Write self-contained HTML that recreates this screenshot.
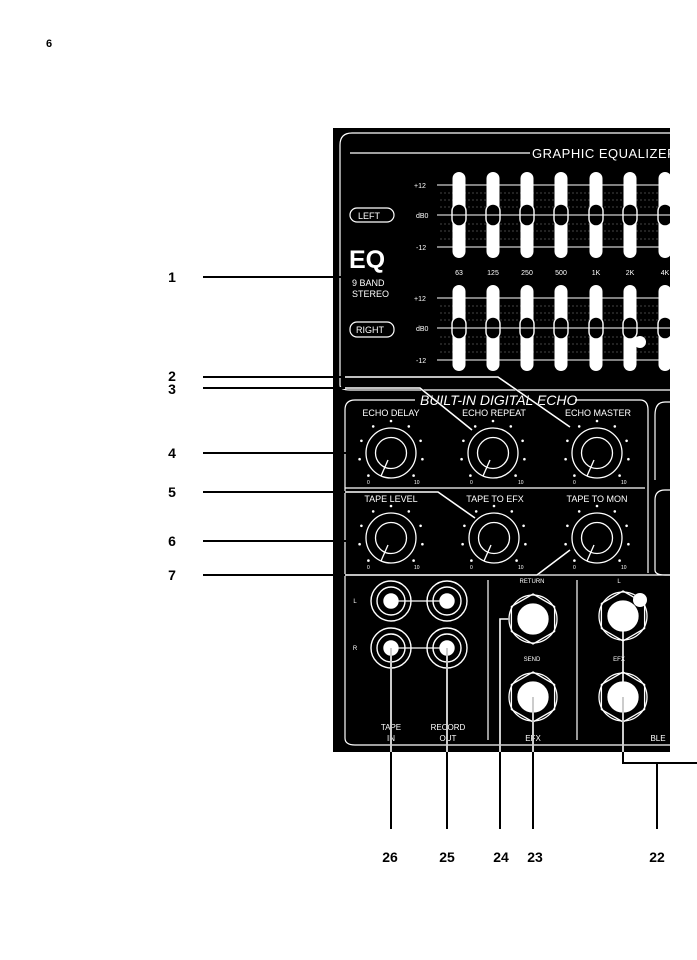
<!DOCTYPE html>
<html><head><meta charset="utf-8"><style>
html,body{margin:0;padding:0;background:#fff;width:697px;height:960px;overflow:hidden}
svg{display:block}
text{font-family:"Liberation Sans",sans-serif}
</style></head><body>
<svg width="697" height="960" viewBox="0 0 697 960" xmlns="http://www.w3.org/2000/svg">
<defs>
<g id="sl"><rect x="-6.5" y="0" width="13" height="86" rx="6.5" fill="#fff"/><rect x="-7" y="32" width="14" height="22" rx="7" fill="#000" stroke="#fff" stroke-width="1.4"/><line x1="-7" y1="43" x2="7" y2="43" stroke="#fff" stroke-width="1"/></g>
<g id="kn" fill="none" stroke="#fff" stroke-width="1.3">
<circle r="25"/><circle r="15.5"/><line x1="-3" y1="7" x2="-10" y2="23"/>
<g fill="#fff" stroke="none">
<circle cx="-22.6" cy="22.6" r="1.3"/><circle cx="-31.4" cy="6.2" r="1.3"/><circle cx="-29.6" cy="-12.2" r="1.3"/><circle cx="-17.8" cy="-26.6" r="1.3"/><circle cx="0" cy="-32" r="1.3"/><circle cx="17.8" cy="-26.6" r="1.3"/><circle cx="29.6" cy="-12.2" r="1.3"/><circle cx="31.4" cy="6.2" r="1.3"/><circle cx="22.6" cy="22.6" r="1.3"/></g></g>
<g id="rca" fill="none" stroke="#fff" stroke-width="1.4"><circle r="20"/><circle r="14"/><circle r="7" fill="#fff"/></g>
<g id="hex" fill="none" stroke="#fff" stroke-width="1.3"><polygon points="0,-25 21.6,-12.5 21.6,12.5 0,25 -21.6,12.5 -21.6,-12.5"/><circle r="24"/><circle r="15" fill="#fff"/></g>
</defs>
<text x="46" y="47" font-size="11" font-weight="bold">6</text>
<rect x="333" y="128" width="337" height="624" fill="#000"/>
<g fill="none" stroke="#fff" stroke-width="1.2">
<path d="M670,133 H352 Q340,133 340,145 V385 Q340,390 350,390 H670"/>
<line x1="350" y1="153" x2="530" y2="153"/>
<rect x="350" y="208" width="44" height="14" rx="7" ry="7"/>
<rect x="350" y="322" width="44" height="15" rx="7" ry="7"/>
<path d="M345,575 V410 Q345,400 355,400 H415 M575,400 H640 Q648,400 648,410 V573"/>
<line x1="345" y1="488" x2="645" y2="488"/>
<path d="M670,402 H665 Q655,402 655,415 V480 M670,490 H665 Q655,490 655,500 V570 Q655,575 665,575 H670"/>
<path d="M345,575 V738 Q345,745 355,745 H670 M345,575 H670"/>
<line x1="488" y1="580" x2="488" y2="740"/>
<line x1="577" y1="580" x2="577" y2="740"/>
</g>
<text x="532" y="158" font-size="13" fill="#fff" letter-spacing="0.5">GRAPHIC  EQUALIZER</text>
<text x="358" y="219" font-size="9" fill="#fff">LEFT</text>
<text x="356" y="333" font-size="9" fill="#fff">RIGHT</text>
<text x="349" y="268" font-size="25" font-weight="bold" fill="#fff">EQ</text>
<text x="352" y="286" font-size="9" fill="#fff">9 BAND</text>
<text x="352" y="297" font-size="9" fill="#fff">STEREO</text>
<g font-size="7" fill="#fff">
<text x="414" y="188">+12</text><text x="416" y="218">dB0</text><text x="416" y="250">-12</text>
<text x="414" y="301">+12</text><text x="416" y="331">dB0</text><text x="416" y="363">-12</text>
<g text-anchor="middle"><text x="459" y="275">63</text><text x="493" y="275">125</text><text x="527" y="275">250</text><text x="561" y="275">500</text><text x="596" y="275">1K</text><text x="630" y="275">2K</text><text x="665" y="275">4K</text></g>
</g>
<g stroke="#fff" stroke-width="1">
<line x1="437" y1="185" x2="670" y2="185"/><line x1="437" y1="215" x2="670" y2="215"/><line x1="437" y1="247" x2="670" y2="247"/>
<line x1="437" y1="298" x2="670" y2="298"/><line x1="437" y1="328" x2="670" y2="328"/><line x1="437" y1="360" x2="670" y2="360"/>
</g>
<g stroke="#888" stroke-width="0.6" stroke-dasharray="2,2">
<line x1="440" y1="193" x2="670" y2="193"/><line x1="440" y1="200" x2="670" y2="200"/><line x1="440" y1="207" x2="670" y2="207"/><line x1="440" y1="224" x2="670" y2="224"/><line x1="440" y1="231" x2="670" y2="231"/><line x1="440" y1="239" x2="670" y2="239"/>
<line x1="440" y1="306" x2="670" y2="306"/><line x1="440" y1="313" x2="670" y2="313"/><line x1="440" y1="320" x2="670" y2="320"/><line x1="440" y1="337" x2="670" y2="337"/><line x1="440" y1="344" x2="670" y2="344"/><line x1="440" y1="352" x2="670" y2="352"/>
</g>
<use href="#sl" x="459" y="172"/><use href="#sl" x="493" y="172"/><use href="#sl" x="527" y="172"/><use href="#sl" x="561" y="172"/><use href="#sl" x="596" y="172"/><use href="#sl" x="630" y="172"/><use href="#sl" x="665" y="172"/>
<use href="#sl" x="459" y="285"/><use href="#sl" x="493" y="285"/><use href="#sl" x="527" y="285"/><use href="#sl" x="561" y="285"/><use href="#sl" x="596" y="285"/><use href="#sl" x="630" y="285"/><use href="#sl" x="665" y="285"/>
<circle cx="640" cy="342" r="6" fill="#fff"/>
<rect x="670" y="128" width="27" height="630" fill="#fff"/>
<text x="420" y="405" font-size="14" font-style="italic" fill="#fff">BUILT-IN DIGITAL ECHO</text>
<g font-size="9" fill="#fff" text-anchor="middle">
<text x="391" y="416">ECHO DELAY</text><text x="494" y="416">ECHO REPEAT</text><text x="598" y="416">ECHO MASTER</text>
<text x="391" y="502">TAPE LEVEL</text><text x="495" y="502">TAPE TO EFX</text><text x="597" y="502">TAPE TO MON</text>
</g>
<g font-size="5" fill="#fff"><text x="367" y="484">0</text><text x="414" y="484">10</text><text x="470" y="484">0</text><text x="518" y="484">10</text><text x="573" y="484">0</text><text x="621" y="484">10</text>
<text x="367" y="569">0</text><text x="414" y="569">10</text><text x="470" y="569">0</text><text x="518" y="569">10</text><text x="573" y="569">0</text><text x="621" y="569">10</text></g>
<use href="#kn" x="391" y="453"/><use href="#kn" x="493" y="453"/><use href="#kn" x="597" y="453"/>
<use href="#kn" x="391" y="538"/><use href="#kn" x="494" y="538"/><use href="#kn" x="597" y="538"/>
<use href="#rca" x="391" y="601"/><use href="#rca" x="447" y="601"/><use href="#rca" x="391" y="648"/><use href="#rca" x="447" y="648"/>
<g stroke="#fff" stroke-width="1.2"><line x1="398" y1="601" x2="440" y2="601"/><line x1="398" y1="648" x2="440" y2="648"/></g>
<use href="#hex" x="533" y="619"/><use href="#hex" x="533" y="697"/><use href="#hex" x="623" y="616"/><use href="#hex" x="623" y="697"/>
<circle cx="640" cy="600" r="7" fill="#fff"/>
<g font-size="6" fill="#fff" text-anchor="middle"><text x="355" y="603">L</text><text x="355" y="650">R</text><text x="532" y="583">RETURN</text><text x="532" y="661">SEND</text><text x="619" y="583">L</text><text x="619" y="661">EFX</text></g>
<g font-size="8" fill="#fff" text-anchor="middle"><text x="391" y="730">TAPE</text><text x="391" y="741">IN</text><text x="448" y="730">RECORD</text><text x="448" y="741">OUT</text><text x="533" y="741">EFX</text><text x="658" y="741">BLE</text></g>
<g stroke="#000" stroke-width="2" fill="none">
<line x1="203" y1="277" x2="343" y2="277"/>
<polyline points="203,377 498,377 570,427"/>
<polyline points="203,388 420,388 472,430"/>
<line x1="203" y1="453" x2="350" y2="453"/>
<polyline points="203,492 438,492 475,518"/>
<line x1="203" y1="541" x2="352" y2="541"/>
<polyline points="203,575 537,575 570,550"/>
<line x1="391" y1="648" x2="391" y2="829"/>
<line x1="447" y1="648" x2="447" y2="829"/>
<polyline points="510,619 500,619 500,829"/>
<line x1="533" y1="697" x2="533" y2="829"/>
<polyline points="623,697 623,763 697,763"/>
<line x1="657" y1="763" x2="657" y2="829"/>
</g>
<g stroke="#fff" stroke-width="1.6" fill="none">
<polyline points="345,377 498,377 570,427"/><polyline points="345,388 420,388 472,430"/>
<polyline points="345,492 438,492 475,518"/><polyline points="345,575 537,575 570,550"/>
<line x1="391" y1="648" x2="391" y2="752"/><line x1="447" y1="648" x2="447" y2="752"/>
<polyline points="510,619 500,619 500,752"/><line x1="533" y1="697" x2="533" y2="752"/>
<line x1="623" y1="616" x2="623" y2="752"/>
</g>
<g font-size="14" font-weight="bold" text-anchor="middle">
<text x="172" y="282">1</text><text x="172" y="381">2</text><text x="172" y="394">3</text><text x="172" y="458">4</text><text x="172" y="497">5</text><text x="172" y="546">6</text><text x="172" y="580">7</text>
<text x="390" y="862">26</text><text x="447" y="862">25</text><text x="501" y="862">24</text><text x="535" y="862">23</text><text x="657" y="862">22</text>
</g>
</svg>
</body></html>
